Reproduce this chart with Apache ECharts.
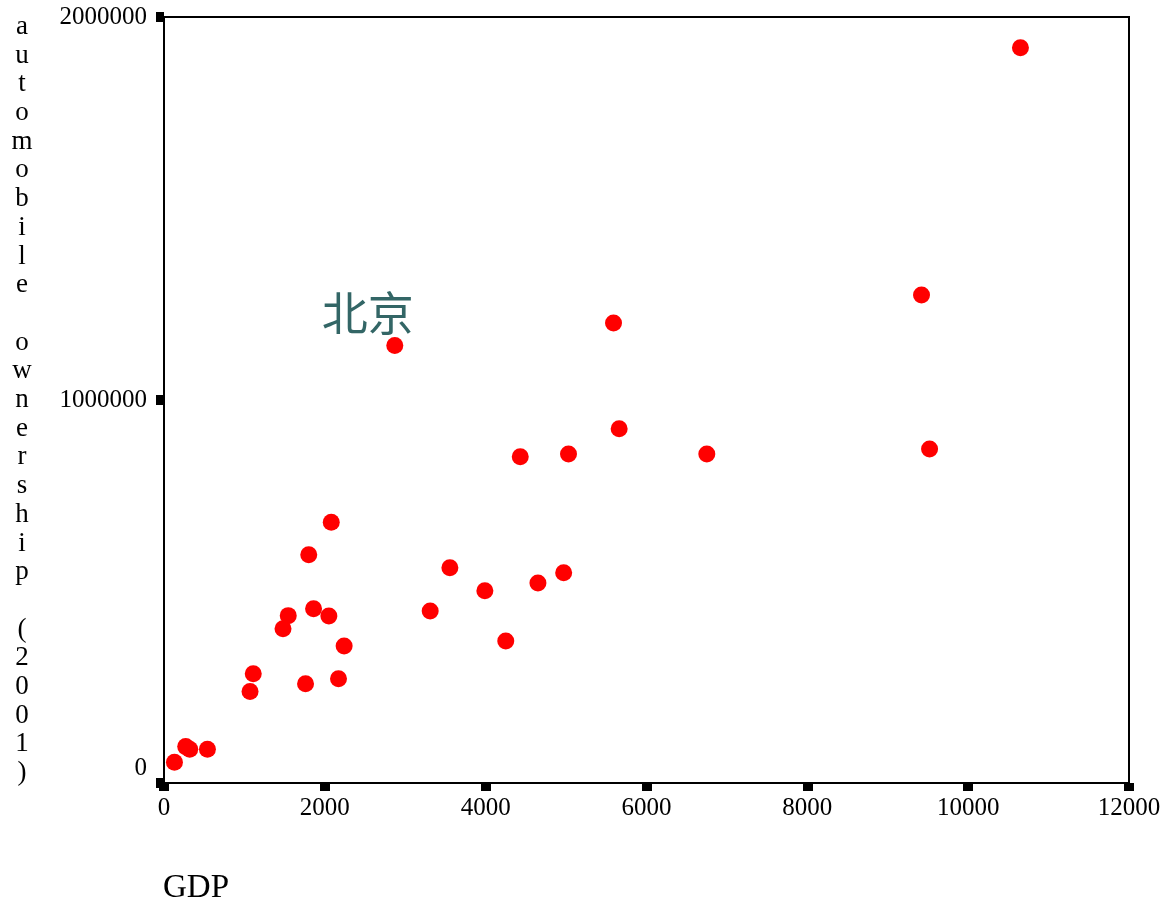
<!DOCTYPE html>
<html>
<head>
<meta charset="utf-8">
<title>GDP vs automobile ownership</title>
<script src="https://cdn.jsdelivr.net/npm/echarts@6/dist/echarts.min.js"></script>
<style>
  html, body { margin: 0; padding: 0; background: #ffffff; }
  #chart { width: 1166px; height: 906px; }
</style>
</head>
<body>
<div id="chart"></div>
<script>
// GDP per province and automobile ownership (2001)
const gdp = [10650, 9420, 5590, 2870, 5660, 4430, 5030, 6750, 9520, 2080,
             1800, 3555, 4970, 4650, 3990, 3310, 1860, 1545, 2050, 1480,
             4250, 2240, 1110, 1070, 2170, 1760, 270, 320, 540, 130];
const cars = [1920000, 1274000, 1201000, 1142000, 925000, 852000, 859000, 859000, 872000, 681000,
              596000, 562000, 549000, 522000, 502000, 449000, 455000, 437000, 436000, 403000,
              371000, 358000, 285000, 239000, 272000, 259000, 95000, 88000, 88000, 54000];
// only one point carries a name label
const pointNames = ['', '', '', '北京', '', '', '', '', '', '',
                    '', '', '', '', '', '', '', '', '', '',
                    '', '', '', '', '', '', '', '', '', ''];
const xTicks = [0, 2000, 4000, 6000, 8000, 10000, 12000];
const yTicks = [0, 1000000, 2000000];
const xTitle = 'GDP';
const yTitle = 'automobile ownership (2001)';

const serif = '"Liberation Serif", "Times New Roman", serif';

const points = gdp.map((g, i) => {
  const item = { value: [g, cars[i]] };
  if (pointNames[i]) {
    item.label = {
      show: true,
      formatter: pointNames[i],
      position: 'top',
      offset: [-27, 3],
      color: '#336666',
      fontSize: 46,
      fontFamily: '"Noto Sans CJK SC", sans-serif'
    };
  }
  return item;
});

const chart = echarts.init(document.getElementById('chart'), null, { renderer: 'canvas' });
chart.setOption({
  backgroundColor: '#ffffff',
  animation: false,
  grid: {
    left: 164, right: 37, top: 17, bottom: 123,
    outerBoundsMode: 'none',
    containLabel: false,
    show: true, borderColor: '#000000', borderWidth: 2, backgroundColor: 'transparent'
  },
  xAxis: {
    type: 'value',
    min: xTicks[0], max: xTicks[xTicks.length - 1], interval: xTicks[1] - xTicks[0],
    axisLine: { show: true, lineStyle: { color: '#000000', width: 2 } },
    axisTick: { show: true, length: 8, lineStyle: { color: '#000000', width: 10 } },
    axisLabel: {
      margin: 13, color: '#000000', fontSize: 25, fontFamily: serif,
      formatter: v => String(v)
    },
    splitLine: { show: false }
  },
  yAxis: {
    type: 'value',
    min: yTicks[0], max: yTicks[yTicks.length - 1], interval: yTicks[1] - yTicks[0],
    name: yTitle.split('').join('\n'),
    nameLocation: 'middle',
    nameRotate: 0,
    nameGap: 142,
    nameTextStyle: {
      align: 'center', verticalAlign: 'middle',
      fontSize: 27, lineHeight: 28.7, color: '#000000', fontFamily: serif,
      padding: [0, 0, 28, 0]
    },
    axisLine: { show: true, lineStyle: { color: '#000000', width: 2 } },
    axisTick: { show: true, length: 8, lineStyle: { color: '#000000', width: 10 } },
    axisLabel: {
      margin: 17, color: '#000000', fontSize: 25, fontFamily: serif,
      formatter: v => (v === 0 ? '{low|0}' : String(v)),
      rich: { low: { padding: [0, 0, 30, 0], fontSize: 25, fontFamily: serif, color: '#000000' } }
    },
    splitLine: { show: false }
  },
  graphic: [{
    type: 'text',
    left: 163,
    top: 872,
    style: { text: xTitle, fontSize: 33, fontFamily: serif, fill: '#000000' }
  }],
  series: [{
    type: 'scatter',
    symbol: 'circle',
    symbolSize: 17,
    itemStyle: { color: '#ff0000', opacity: 1 },
    data: points
  }]
});
</script>
</body>
</html>
